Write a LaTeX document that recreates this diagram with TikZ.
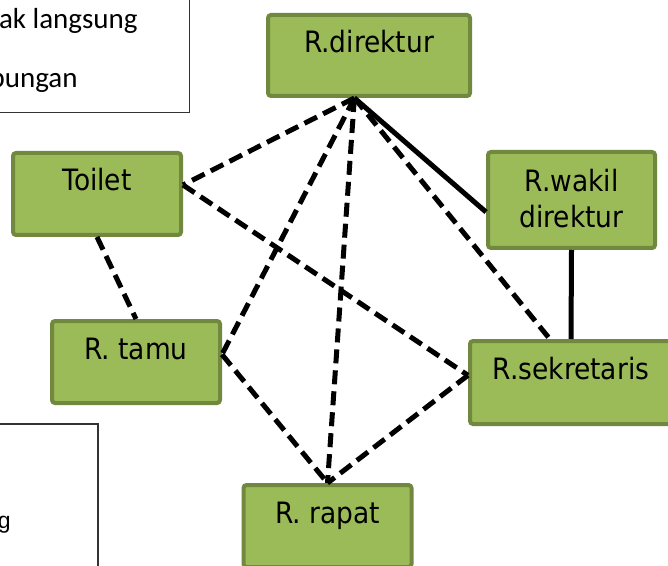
\documentclass[tikz,border=0pt]{standalone}
\usepackage{fontspec}
\usepackage{xcolor}
\newfontfamily\roomfont[FakeStretch=0.9]{DejaVu Sans}
\newfontfamily\legendfont{Carlito}
\newfontfamily\notefont{Liberation Sans}
\definecolor{roomfill}{HTML}{9BBB59}
\definecolor{roomline}{HTML}{71893F}

\begin{document}
\begin{tikzpicture}[
    x=0.5pt, y=-0.5pt,
    room/.style={rectangle, draw=roomline, fill=roomfill, line width=2pt, rounded corners=1.5pt, inner sep=0pt, minimum width=84pt, text height=19pt, text depth=22pt, align=center, font=\roomfont\fontsize{14.7}{18}\selectfont},
    legendtext/.style={font=\legendfont\fontsize{14.5}{16}\selectfont, anchor=base east, inner sep=0pt},
    link/.style={line width=2.5pt, dash pattern=on 7pt off 3.5pt},
    direct/.style={line width=2.5pt},
    legend/.style={draw=black!80, line width=0.75pt}
]
\clip (0,0) rectangle (668,566);

% Legend boxes
\draw[legend] (-10,-10) rectangle (189.5,112.5);
\draw[legend] (-10,424) rectangle (98,600);
\node[legendtext] (tidak) at (138,29) {ak langsung};
\node[legendtext] (hub) at (78,88) {bungan};
\node[font=\notefont\fontsize{11.5}{13}\selectfont, anchor=base east, inner sep=0pt] (lang) at (11,528) {g};

% Rooms
\node[room, minimum width=101pt, text depth=21.5pt] (direktur) at (369,55.5) {R.direktur};
\node[room] (toilet) at (97,194) {Toilet};
\node[room, minimum width=83.5pt, text height=38pt, text depth=10pt] (wakil) at (571.5,200) {R.wakil\\direktur};
\node[room] (tamu) at (136,362) {R. tamu};
\node[room, minimum width=101pt, text depth=22.5pt] (sekretaris) at (571,382.5) {R.sekretaris};
\node[room] (rapat) at (327.5,526) {R. rapat};

% Connections
\draw[link] (direktur.251) -- (toilet.6);
\draw[link] (direktur.251) -- (tamu.5);
\draw[link] (direktur.251) -- (rapat.north);
\draw[link] (direktur.251) -- (sekretaris.116);
\draw[direct] (direktur.251) -- (wakil.188);
\draw[link] (toilet.6) -- (sekretaris.176);
\draw[link] (toilet.south) -- (tamu.north);
\draw[link] (tamu.5) -- (rapat.north);
\draw[link] (sekretaris.176) -- (rapat.north);
\draw[direct] (wakil.south) -- (sekretaris.north);

\end{tikzpicture}
\end{document}
